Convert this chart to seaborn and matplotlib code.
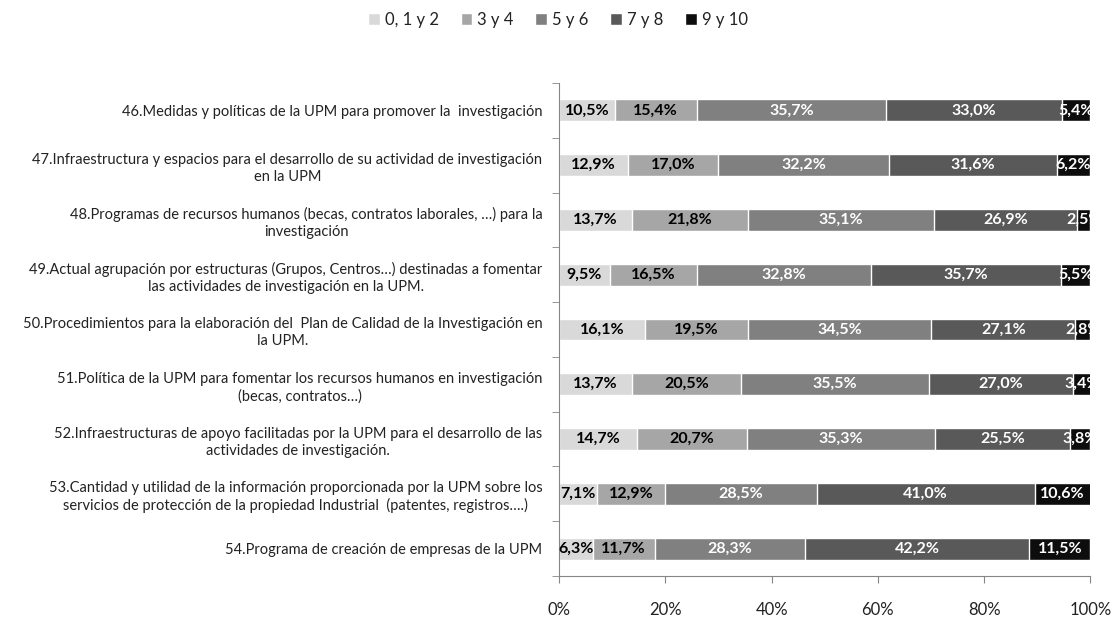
import numpy as np
import pandas as pd
import matplotlib
matplotlib.use("Agg")
import matplotlib.pyplot as plt
from matplotlib.patches import Patch
from matplotlib.ticker import FixedLocator, PercentFormatter
import seaborn as sns

# data
items = [
    "46.Medidas y políticas de la UPM para promover la  investigación",
    "47.Infraestructura y espacios para el desarrollo de su actividad de investigación\nen la UPM",
    "48.Programas de recursos humanos (becas, contratos laborales, …) para la\ninvestigación",
    "49.Actual agrupación por estructuras (Grupos, Centros…) destinadas a fomentar\nlas actividades de investigación en la UPM.",
    "50.Procedimientos para la elaboración del  Plan de Calidad de la Investigación en\nla UPM.",
    "51.Política de la UPM para fomentar los recursos humanos en investigación\n(becas, contratos…)",
    "52.Infraestructuras de apoyo facilitadas por la UPM para el desarrollo de las\nactividades de investigación.",
    "53.Cantidad y utilidad de la información proporcionada por la UPM sobre los\nservicios de protección de la propiedad Industrial  (patentes, registros….)",
    "54.Programa de creación de empresas de la UPM",
]
groups = ["0, 1 y 2", "3 y 4", "5 y 6", "7 y 8", "9 y 10"]
v_0_2 = [10.5, 12.9, 13.7, 9.5, 16.1, 13.7, 14.7, 7.1, 6.3]
v_3_4 = [15.4, 17.0, 21.8, 16.5, 19.5, 20.5, 20.7, 12.9, 11.7]
v_5_6 = [35.7, 32.2, 35.1, 32.8, 34.5, 35.5, 35.3, 28.5, 28.3]
v_7_8 = [33.0, 31.6, 26.9, 35.7, 27.1, 27.0, 25.5, 41.0, 42.2]
v_9_10 = [5.4, 6.2, 2.5, 5.5, 2.8, 3.4, 3.8, 10.6, 11.5]

colors = ["#d9d9d9", "#a6a6a6", "#808080", "#595959", "#0d0d0d"]
text_colors = ["black", "black", "white", "white", "white"]

df = pd.DataFrame(dict(zip(groups, [v_0_2, v_3_4, v_5_6, v_7_8, v_9_10])), index=items)
cum = df.cumsum(axis=1)

sns.set_style("white")
plt.rcParams["font.family"] = ["Lato", "DejaVu Sans"]

fig = plt.figure(figsize=(11.16, 6.17), dpi=100)
ax = fig.add_axes([0.501, 0.0665, 0.476, 0.799])

# stacked bars: draw cumulative totals from the back
for g, c in reversed(list(zip(groups, colors))):
    sns.barplot(x=cum[g].values, y=items, orient="h", color=c, width=0.4,
                saturation=1, ax=ax, order=items)

# value labels
for i, item in enumerate(items):
    left = 0
    for g, tc in zip(groups, text_colors):
        w = df.loc[item, g]
        ax.text(left + w / 2, i, f"{w:.1f}%".replace(".", ","), ha="center", va="center",
                color=tc, fontsize=11.5, fontweight="bold", clip_on=True)
        left += w

ax.set_xlim(0, 100)
ax.set_ylim(len(items) - 0.5, -0.5)
ax.xaxis.set_major_locator(FixedLocator([0, 20, 40, 60, 80, 100]))
ax.xaxis.set_major_formatter(PercentFormatter(decimals=0))
ax.set_xlabel("")
ax.set_ylabel("")

ax.set_yticks(range(len(items)))
ax.set_yticklabels(items, multialignment="center", fontsize=10.5, color="#222222",
                   linespacing=1.3)
ax.yaxis.set_minor_locator(FixedLocator(np.arange(-0.5, len(items), 1)))
ax.tick_params(axis="y", which="major", length=0, pad=12)
ax.tick_params(axis="y", which="minor", length=5, color="#868686", direction="out", left=True)
ax.tick_params(axis="x", which="major", length=5, color="#868686", direction="out",
               bottom=True, labelsize=12, labelcolor="#222222", pad=14)

sns.despine(ax=ax, top=True, right=True)
for s in ["left", "bottom"]:
    ax.spines[s].set_color("#868686")

handles = [Patch(facecolor=c, label=g) for g, c in zip(groups, colors)]
fig.legend(handles=handles, loc="center", bbox_to_anchor=(0.5, 0.968), ncol=5,
           frameon=False, fontsize=12, handlelength=0.7, handleheight=0.7,
           handletextpad=0.3, columnspacing=1.3, labelcolor="#222222")

fig.savefig("out.png", dpi=100)
